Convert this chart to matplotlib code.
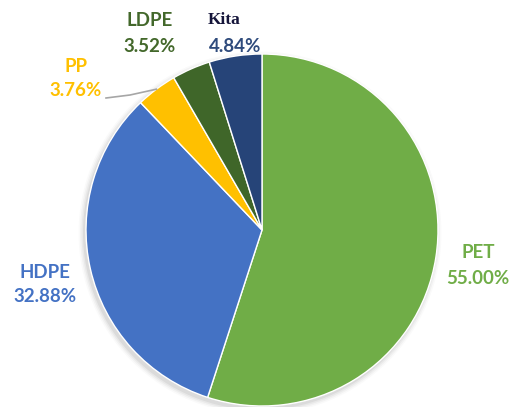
import numpy as np
import matplotlib.pyplot as plt
from matplotlib.patches import Circle

# data
labels = ['PET', 'HDPE', 'PP', 'LDPE', 'Kita']
shares = [55.00, 32.88, 3.76, 3.52, 4.84]
colors = ['#70AD47', '#4472C4', '#FFC000', '#3F6629', '#264478']
text_colors = ['#70AD47', '#4472C4', '#FFC000', '#43682B', '#2F4B7C']

fig = plt.figure(figsize=(5.16, 4.07), dpi=100)
ax = fig.add_axes([0, 0, 1, 1])

cx, cy, r = 262, 230, 176

# y axis runs downward (pixel-like), so angles are mirrored:
# start at top going clockwise on screen
wedges, _ = ax.pie(shares, colors=colors, startangle=-90, counterclock=True,
                   center=(cx, cy), radius=r, frame=True,
                   wedgeprops=dict(edgecolor='white', linewidth=1.0))
ax.set_xlim(0, 516)
ax.set_ylim(407, 0)
ax.set_aspect('equal')
ax.axis('off')
for w in wedges:
    w.set_zorder(2)

# soft shadow
for i, a in enumerate([0.05, 0.04, 0.03, 0.02]):
    ax.add_patch(Circle((cx - 2, cy + 3), r + 1 + i * 1.5, color='black', alpha=a, lw=0, zorder=1))

font = ['Lato', 'DejaVu Sans']
fs = 13.5

# label positions (pixels)
pos = {
    'PET': (478, 253),
    'HDPE': (45, 272),
    'PP': (76, 66),
    'LDPE': (150, 21),
    'Kita': (224, 20),
}
pct_pos = {
    'PET': (478, 278),
    'HDPE': (45, 297),
    'PP': (76, 91),
    'LDPE': (150, 46),
    'Kita': (235, 46),
}

for lab, val, tc in zip(labels, shares, text_colors):
    x, y = pos[lab]
    if lab == 'Kita':
        ax.text(x, y, lab, ha='center', va='center', fontsize=12.5, fontweight='bold',
                family=['Liberation Serif', 'DejaVu Serif'], color='#15153a')
    else:
        ax.text(x, y, lab, ha='center', va='center', fontsize=fs, fontweight='bold',
                family=font, color=tc)
    px, py = pct_pos[lab]
    ax.text(px, py, f'{val:.2f}%', ha='center', va='center', fontsize=fs,
            fontweight='bold', family=font, color=tc)

# leader line for PP
w = wedges[2]
mid = np.deg2rad((w.theta1 + w.theta2) / 2)
ex = cx + r * np.cos(mid)
ey = cy + r * np.sin(mid)
ax.plot([106, 130, ex], [98, 95, ey], color='#A6A6A6', lw=1.2, zorder=3)

fig.savefig('out.png', dpi=100)
